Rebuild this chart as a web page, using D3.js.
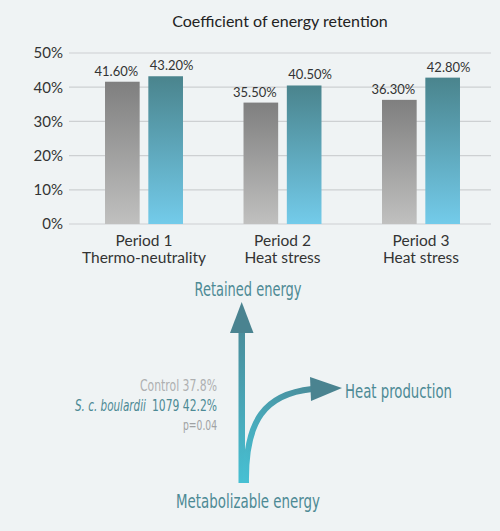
<!DOCTYPE html>
<html>
<head>
<meta charset="utf-8">
<script src="https://cdn.jsdelivr.net/npm/d3@7"></script>
<style>
  html, body { margin: 0; padding: 0; background: #eff3f4; }
  svg { display: block; }
  .tick text { font-family: Lato, "Open Sans", sans-serif; }
</style>
</head>
<body>
<div id="chart"></div>
<script>
// chart values
const periods = ["Period 1", "Period 2", "Period 3"];
const conditions = ["Thermo-neutrality", "Heat stress", "Heat stress"];
const series = ["Control", "S. c. boulardii 1079"];
const controlValues = [41.6, 35.5, 36.3];
const boulardiiValues = [43.2, 40.5, 42.8];
const yTicks = [0, 10, 20, 30, 40, 50];

// summary of the energy flow diagram
const summaryControl = 37.8;
const summaryBoulardii = 42.2;
const summaryP = 0.04;

const config = {
    width: 500,
    height: 531,
    plotLeft: 69,
    plotRight: 491,
    plotTop: 53,
    plotBottom: 224
};

const svg = d3.select("#chart")
    .append("svg")
    .attr("width", config.width)
    .attr("height", config.height);

const defs = svg.append("defs");

const grayGrad = defs.append("linearGradient")
    .attr("id", "grayGrad")
    .attr("x1", 0).attr("y1", 0).attr("x2", 0).attr("y2", 1);
grayGrad.append("stop").attr("offset", "0%").attr("stop-color", "#7f7f7f");
grayGrad.append("stop").attr("offset", "100%").attr("stop-color", "#c0c0bf");

const tealGrad = defs.append("linearGradient")
    .attr("id", "tealGrad")
    .attr("x1", 0).attr("y1", 0).attr("x2", 0).attr("y2", 1);
tealGrad.append("stop").attr("offset", "0%").attr("stop-color", "#4a848d");
tealGrad.append("stop").attr("offset", "100%").attr("stop-color", "#73cbea");

const data = periods.map((p, i) => ({
    period: p,
    condition: conditions[i],
    values: [
        { key: series[0], value: controlValues[i] },
        { key: series[1], value: boulardiiValues[i] }
    ]
}));

const yScale = d3.scaleLinear()
    .domain([0, 50])
    .range([config.plotBottom, config.plotTop]);

const xScale = d3.scaleBand()
    .domain(periods)
    .range([config.plotLeft, 496])
    .paddingInner(0.437)
    .paddingOuter(0.26);

const xInner = d3.scaleBand()
    .domain(series)
    .range([0, xScale.bandwidth()])
    .paddingInner(0.2);

// title
svg.append("text")
    .attr("x", 280)
    .attr("y", 27)
    .attr("text-anchor", "middle")
    .style("font-family", "Lato, 'Open Sans', sans-serif")
    .style("font-size", "16px")
    .style("fill", "#222")
    .text("Coefficient of energy retention");

// grid lines
svg.append("g")
    .selectAll("line")
    .data(yTicks)
    .enter().append("line")
    .attr("x1", config.plotLeft)
    .attr("x2", config.plotRight)
    .attr("y1", d => yScale(d))
    .attr("y2", d => yScale(d))
    .style("stroke", "#cdd0d2")
    .style("stroke-width", 1.2);

// y axis
const yAxis = svg.append("g")
    .attr("transform", "translate(" + (config.plotLeft - 6) + ",0)")
    .call(d3.axisLeft(yScale).tickValues(yTicks).tickSize(0).tickPadding(0).tickFormat(d => d + "%"));
yAxis.select(".domain").remove();
yAxis.selectAll("text")
    .style("font-size", "15px")
    .style("fill", "#333");

// bars
const groups = svg.append("g")
    .selectAll("g")
    .data(data)
    .enter().append("g")
    .attr("transform", d => "translate(" + xScale(d.period) + ",0)");

groups.selectAll("rect")
    .data(d => d.values)
    .enter().append("rect")
    .attr("x", d => xInner(d.key))
    .attr("y", d => yScale(d.value))
    .attr("width", xInner.bandwidth())
    .attr("height", d => yScale(0) - yScale(d.value))
    .style("fill", (d, i) => i === 0 ? "url(#grayGrad)" : "url(#tealGrad)");

groups.selectAll(".value-label")
    .data(d => d.values)
    .enter().append("text")
    .attr("class", "value-label")
    .attr("x", (d, i) => xInner(d.key) + xInner.bandwidth() / 2 + (i === 0 ? -6 : 6))
    .attr("y", d => yScale(d.value) - 6)
    .attr("text-anchor", "middle")
    .style("font-family", "Lato, 'Open Sans', sans-serif")
    .style("font-size", "13px")
    .style("fill", "#333")
    .text(d => d.value.toFixed(2) + "%");

// category labels
const catLabels = groups.append("text")
    .attr("text-anchor", "middle")
    .style("font-family", "Lato, 'Open Sans', sans-serif")
    .style("font-size", "15.5px")
    .style("fill", "#333");
catLabels.append("tspan")
    .attr("x", xScale.bandwidth() / 2)
    .attr("y", 246)
    .text(d => d.period);
catLabels.append("tspan")
    .attr("x", xScale.bandwidth() / 2)
    .attr("y", 263)
    .text(d => d.condition);

// energy flow diagram
const flowFont = "'DejaVu Sans Condensed', 'Liberation Sans Narrow', sans-serif";
const teal = "#4d8a95";

const upGrad = defs.append("linearGradient")
    .attr("id", "upGrad")
    .attr("gradientUnits", "userSpaceOnUse")
    .attr("x1", 0).attr("y1", 483).attr("x2", 0).attr("y2", 302);
upGrad.append("stop").attr("offset", "0%").attr("stop-color", "#47c0d3");
upGrad.append("stop").attr("offset", "100%").attr("stop-color", "#4a8390");

const curveGrad = defs.append("linearGradient")
    .attr("id", "curveGrad")
    .attr("gradientUnits", "userSpaceOnUse")
    .attr("x1", 246).attr("y1", 483).attr("x2", 342).attr("y2", 388);
curveGrad.append("stop").attr("offset", "0%").attr("stop-color", "#47c0d3");
curveGrad.append("stop").attr("offset", "100%").attr("stop-color", "#4a8390");

const flow = svg.append("g");

// vertical arrow (retained energy)
flow.append("rect")
    .attr("x", 238.5)
    .attr("y", 330)
    .attr("width", 6.5)
    .attr("height", 153)
    .style("fill", "url(#upGrad)");
flow.append("path")
    .attr("d", "M241.7,302 L253.5,333 L230,333 Z")
    .style("fill", "#4a8390");

// curved arrow (heat production)
flow.append("path")
    .attr("d", "M246,483 C245,420 265,394 312,389")
    .style("fill", "none")
    .style("stroke", "url(#curveGrad)")
    .style("stroke-width", 6);
flow.append("path")
    .attr("d", "M310,377 L342,388 L311,401 Z")
    .style("fill", "#4a8390");

const flowText = function(text, x, y, anchor, width, size, color) {
    return flow.append("text")
        .attr("x", x)
        .attr("y", y)
        .attr("text-anchor", anchor)
        .attr("textLength", width)
        .attr("lengthAdjust", "spacingAndGlyphs")
        .style("font-family", flowFont)
        .style("font-size", size + "px")
        .style("fill", color)
        .text(text);
};

flowText("Retained energy", 248, 296, "middle", 107, 20, teal);
flowText("Heat production", 345, 398, "start", 107, 20, teal);
flowText("Metabolizable energy", 248, 508, "middle", 144, 20, teal);

// summary beside the arrows
flowText(series[0] + " " + summaryControl.toFixed(1) + "%", 217, 391, "end", 77, 15, "#aeb0b1");
flowText("S. c. boulardii", 146, 411, "end", 71, 15, teal)
    .style("font-style", "italic");
flowText("1079 " + summaryBoulardii.toFixed(1) + "%", 217, 411, "end", 65, 15, teal);
flowText("p=" + summaryP.toFixed(2), 217, 430, "end", 34, 14, "#a0a2a3");
</script>
</body>
</html>
